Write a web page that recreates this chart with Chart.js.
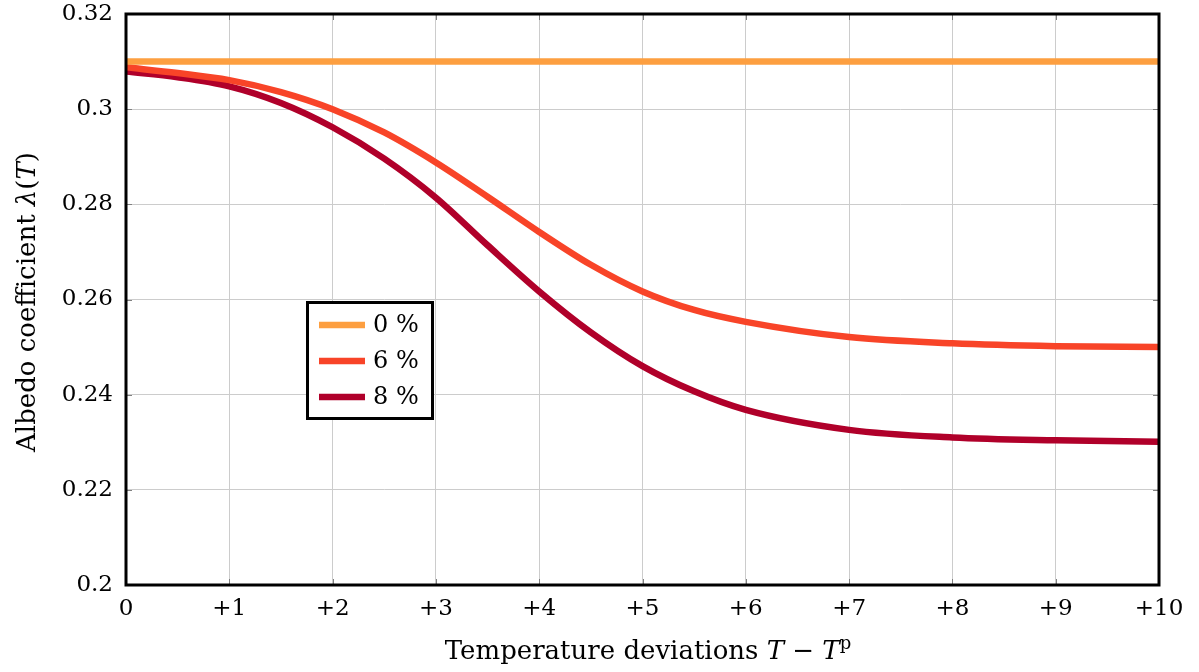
<!DOCTYPE html>
<html>
<head>
<meta charset="utf-8">
<script src="https://cdn.jsdelivr.net/npm/chart.js@4.4.1/dist/chart.umd.min.js"></script>
<style>
  html, body { margin: 0; padding: 0; background: #fff; }
  #wrap { width: 1199px; height: 672px; position: relative; }
</style>
</head>
<body>
<div id="wrap"><canvas id="albedoChart"></canvas></div>
<script>
// temperature deviations (x) where the curves were read
const deviations = [0, 0.5, 1, 1.5, 2, 2.5, 3, 3.5, 4, 4.5, 5, 5.5, 6, 7, 8, 9, 10];
// albedo values
const albedo0 = [0.31, 0.31, 0.31, 0.31, 0.31, 0.31, 0.31, 0.31, 0.31, 0.31, 0.31, 0.31, 0.31, 0.31, 0.31, 0.31, 0.31];
const albedo6 = [0.3088, 0.3076, 0.3061, 0.3036, 0.3000, 0.2951, 0.2888, 0.2816, 0.2742, 0.2673, 0.2617, 0.2578, 0.2553, 0.2521, 0.2508, 0.2502, 0.2500];
const albedo8 = [0.3079, 0.3067, 0.3048, 0.3013, 0.2962, 0.2896, 0.2814, 0.2714, 0.2617, 0.2531, 0.2460, 0.2407, 0.2368, 0.2326, 0.2310, 0.2304, 0.2301];
const seriesLabels = ['0 %', '6 %', '8 %'];
const seriesColors = ['#fd9f40', '#f84428', '#b0002a'];
const xTicks = ['0', '+1', '+2', '+3', '+4', '+5', '+6', '+7', '+8', '+9', '+10'];

const FONT = '"DejaVu Serif", serif';
const LINE_W = 6.5;

function toPoints(ys) {
    return deviations.map((x, i) => ({ x: x, y: ys[i] }));
}

// рамка, засечки, легенда внутри графика и подписи осей с курсивом
const decorPlugin = {
    id: 'decor',
    afterDatasetsDraw(chart) {
        const ctx = chart.ctx;
        const a = chart.chartArea;
        const xs = chart.scales.x, ys = chart.scales.y;
        ctx.save();

        // короткие засечки внутри рамки
        ctx.strokeStyle = '#808080';
        ctx.lineWidth = 1;
        ctx.beginPath();
        xs.ticks.forEach(t => {
            const px = Math.round(xs.getPixelForValue(t.value)) + 0.5;
            ctx.moveTo(px, a.bottom); ctx.lineTo(px, a.bottom - 6);
            ctx.moveTo(px, a.top); ctx.lineTo(px, a.top + 6);
        });
        ys.ticks.forEach(t => {
            const py = Math.round(ys.getPixelForValue(t.value)) + 0.5;
            ctx.moveTo(a.left, py); ctx.lineTo(a.left + 6, py);
            ctx.moveTo(a.right, py); ctx.lineTo(a.right - 6, py);
        });
        ctx.stroke();

        // рамка
        ctx.strokeStyle = '#000';
        ctx.lineWidth = 3;
        ctx.strokeRect(a.left, a.top, a.right - a.left, a.bottom - a.top);

        // легенда
        const bx = 307.5, by = 302.5, bw = 125, bh = 116;
        ctx.fillStyle = '#fff';
        ctx.fillRect(bx, by, bw, bh);
        ctx.strokeRect(bx, by, bw, bh);
        ctx.font = '24px ' + FONT;
        ctx.textBaseline = 'middle';
        ctx.textAlign = 'left';
        chart.data.datasets.forEach((ds, i) => {
            const ly = 325 + i * 36;
            ctx.strokeStyle = ds.borderColor;
            ctx.lineWidth = LINE_W;
            ctx.beginPath();
            ctx.moveTo(319, ly); ctx.lineTo(365, ly);
            ctx.stroke();
            ctx.fillStyle = '#000';
            ctx.fillText(ds.label, 373, ly + 1);
        });

        // подпись оси X
        drawParts(ctx, [
            ['Temperature deviations ', '26px ' + FONT, 0],
            ['T', 'italic 26px ' + FONT, 0],
            [' \u2212 ', '26px ' + FONT, 0],
            ['T', 'italic 26px ' + FONT, 0],
            ['p', '18px ' + FONT, -10]
        ], 648, 659);

        // подпись оси Y
        ctx.translate(35, 302);
        ctx.rotate(-Math.PI / 2);
        drawParts(ctx, [
            ['Albedo coefficient ', '26px ' + FONT, 0],
            ['\u03bb', 'italic 26px ' + FONT, 0],
            ['(', '26px ' + FONT, 0],
            ['T', 'italic 26px ' + FONT, 0],
            [')', '26px ' + FONT, 0]
        ], 0, 0);

        ctx.restore();
    }
};

function drawParts(ctx, parts, cx, baseline) {
    let total = 0;
    parts.forEach(p => { ctx.font = p[1]; total += ctx.measureText(p[0]).width; });
    let x = cx - total / 2;
    ctx.fillStyle = '#000';
    ctx.textBaseline = 'alphabetic';
    ctx.textAlign = 'left';
    parts.forEach(p => {
        ctx.font = p[1];
        ctx.fillText(p[0], x, baseline + p[2]);
        x += ctx.measureText(p[0]).width;
    });
}

const chart = new Chart(document.getElementById('albedoChart'), {
    type: 'line',
    data: {
        datasets: [albedo0, albedo6, albedo8].map((ys, i) => ({
            label: seriesLabels[i],
            data: toPoints(ys),
            borderColor: seriesColors[i],
            backgroundColor: seriesColors[i],
            borderWidth: LINE_W,
            pointRadius: 0,
            fill: false,
            cubicInterpolationMode: 'monotone'
        }))
    },
    options: {
        responsive: true,
        maintainAspectRatio: false,
        animation: false,
        layout: { padding: { top: 14, right: 40, left: 0, bottom: 0 } },
        plugins: { legend: { display: false }, tooltip: { enabled: false } },
        scales: {
            x: {
                type: 'linear',
                min: 0, max: 10,
                afterFit(scale) {
                    scale.height = 87;
                    scale.paddingLeft = 0;
                    scale.paddingRight = 0;
                },
                ticks: {
                    stepSize: 1,
                    padding: 10,
                    color: '#000',
                    font: { family: FONT, size: 23 },
                    maxRotation: 0,
                    callback: (v) => xTicks[v]
                },
                grid: { color: '#cccccc', lineWidth: 1, drawTicks: false },
                border: { display: false }
            },
            y: {
                min: 0.2, max: 0.32,
                afterFit(scale) {
                    scale.width = 126;
                    scale.paddingTop = 0;
                    scale.paddingBottom = 0;
                },
                ticks: {
                    stepSize: 0.02,
                    padding: 13,
                    color: '#000',
                    font: { family: FONT, size: 23 },
                    callback: (v) => String(+v.toFixed(2))
                },
                grid: { color: '#cccccc', lineWidth: 1, drawTicks: false },
                border: { display: false }
            }
        }
    },
    plugins: [decorPlugin]
});
</script>
</body>
</html>
